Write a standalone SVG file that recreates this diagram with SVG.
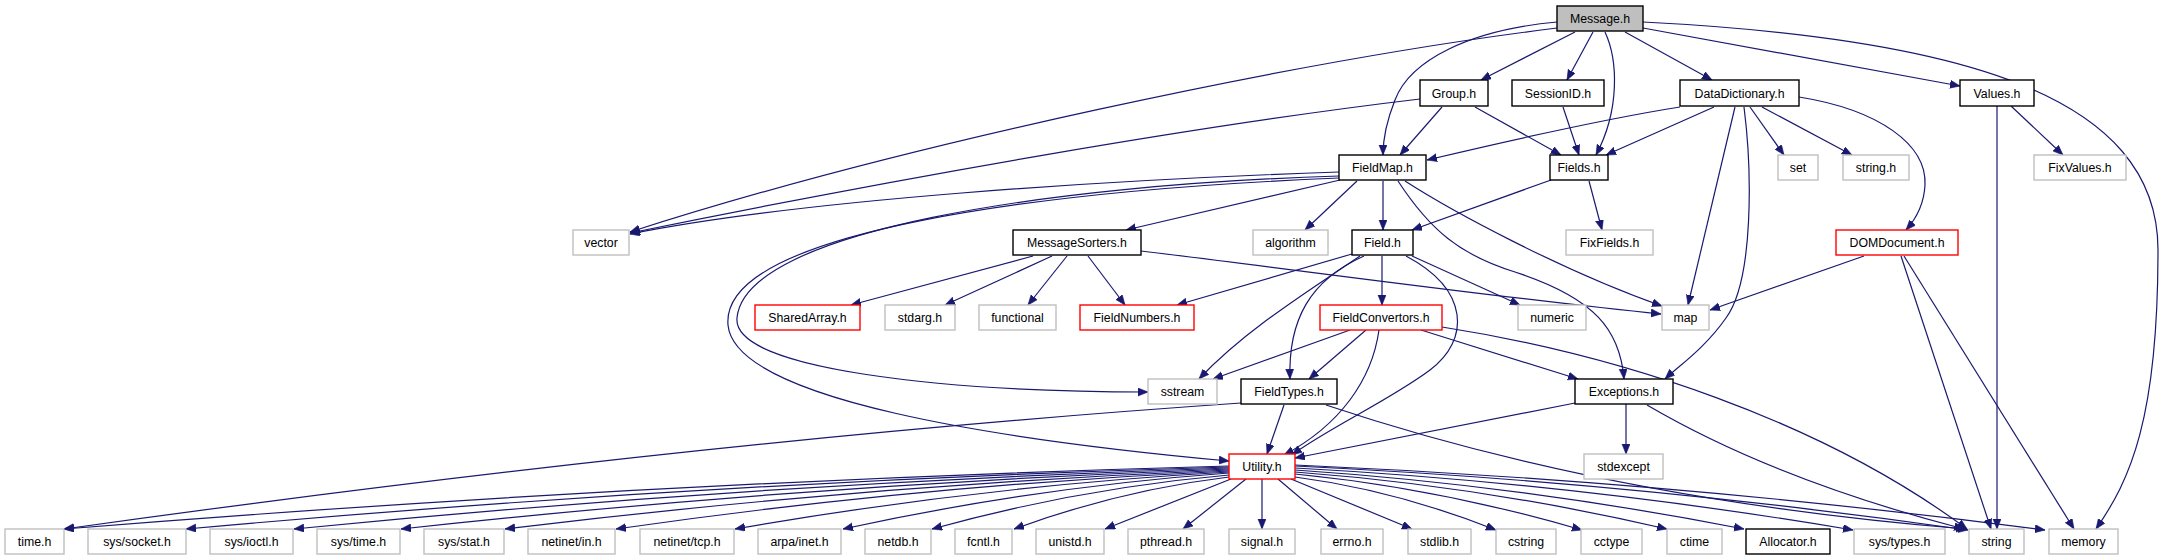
<svg xmlns="http://www.w3.org/2000/svg" width="2168" height="560" viewBox="0 0 2168 560">
<style>
rect{fill:#fff;stroke-width:1.4}
.doc rect{stroke:#000}
.ext rect{stroke:#bfbfbf}
.red rect{stroke:#ff0000}
.root rect{fill:#bfbfbf;stroke:#000}
text{font-family:"Liberation Sans",Arial,sans-serif;font-size:12.3px;text-anchor:middle;fill:#000}
#edges path{fill:none;stroke:#191970;stroke-width:1.2;marker-end:url(#a)}
</style>
<defs>
<marker id="a" markerUnits="userSpaceOnUse" markerWidth="11" markerHeight="9" refX="10" refY="4" orient="auto" viewBox="0 0 11 9"><path d="M0,0 L10,4 L0,8 z" fill="#191970" stroke="#191970" stroke-width="0.6"/></marker>
</defs>
<rect x="0" y="0" width="2168" height="560" style="fill:#fff;stroke:none"/>
<g id="edges">
<path d="M1557,28 C1300,60 900,145 630,232"/>
<path d="M1557,22 C1470,30 1410,60 1395,100 C1385,125 1383,140 1383,155"/>
<path d="M1575,32 L1481,80"/>
<path d="M1593,32 L1567,80"/>
<path d="M1605,32 C1618,60 1620,110 1596,155"/>
<path d="M1625,32 L1712,80"/>
<path d="M1643,28 L1960,86"/>
<path d="M1643,22 C1960,38 2158,95 2158,250 C2158,420 2130,480 2096,529"/>
<path d="M1420,99 C1200,125 900,178 630,233"/>
<path d="M1442,107 L1400,155"/>
<path d="M1475,107 L1561,155"/>
<path d="M1563,107 L1579,155"/>
<path d="M1680,107 C1610,118 1520,138 1427,160"/>
<path d="M1714,107 L1606,155"/>
<path d="M1735,107 L1688,305"/>
<path d="M1744,107 C1752,170 1754,280 1726,318 C1705,348 1680,365 1665,379"/>
<path d="M1750,107 L1784,155"/>
<path d="M1762,107 L1852,155"/>
<path d="M1799,97 C1880,110 1927,145 1925,185 C1924,205 1915,220 1906,230"/>
<path d="M1997,106 L1997,529"/>
<path d="M2011,106 L2063,155"/>
<path d="M1339,172 C1100,180 800,200 630,234"/>
<path d="M1339,176 C1050,185 745,230 737,318 C732,370 950,392 1148,392"/>
<path d="M1339,178 C1050,190 720,230 728,325 C735,400 1000,440 1229,461"/>
<path d="M1340,180 L1126,230"/>
<path d="M1357,181 L1305,230"/>
<path d="M1383,181 L1383,230"/>
<path d="M1405,181 C1450,210 1560,270 1662,306"/>
<path d="M1398,181 C1430,230 1460,255 1515,272 C1595,298 1620,330 1624,379"/>
<path d="M1551,180 L1412,230"/>
<path d="M1589,181 L1602,230"/>
<path d="M1033,256 L851,305"/>
<path d="M1052,256 L945,305"/>
<path d="M1067,256 L1028,305"/>
<path d="M1088,256 L1125,305"/>
<path d="M1141,251 C1300,270 1500,298 1661,314"/>
<path d="M1352,254 L1177,305"/>
<path d="M1360,256 C1310,290 1245,330 1199,379"/>
<path d="M1364,256 C1310,280 1288,320 1290,379"/>
<path d="M1382,256 L1382,305"/>
<path d="M1412,256 L1520,305"/>
<path d="M1406,256 C1470,290 1470,340 1430,370 C1390,400 1325,430 1292,455"/>
<path d="M1350,330 L1213,379"/>
<path d="M1366,330 L1309,379"/>
<path d="M1379,330 C1372,380 1340,425 1284,455"/>
<path d="M1421,330 L1578,379"/>
<path d="M1442,327 C1620,355 1820,420 1967,529"/>
<path d="M1575,403 L1295,458"/>
<path d="M1626,404 L1626,454"/>
<path d="M1647,405 Q1775,480 1964,529"/>
<path d="M1864,256 L1710,310"/>
<path d="M1901,256 L1991,529"/>
<path d="M1904,256 L2074,529"/>
<path d="M1241,403 Q700,440 64,529"/>
<path d="M1284,405 L1267,454"/>
<path d="M1326,405 Q1610,500 1966,529"/>
<path d="M1229,466 Q646,482 64,529"/>
<path d="M1229,467 Q707,482 186,529"/>
<path d="M1229,468 Q761,483 294,529"/>
<path d="M1229,469 Q815,484 401,529"/>
<path d="M1229,470 Q867,485 505,529"/>
<path d="M1229,471 Q922,485 616,529"/>
<path d="M1229,472 Q982,486 735,529"/>
<path d="M1229,473 Q1036,487 843,529"/>
<path d="M1229,475 Q1080,488 932,529"/>
<path d="M1229,477 Q1121,490 1014,529"/>
<path d="M1231,479 L1105,529"/>
<path d="M1246,479 L1183,529"/>
<path d="M1262,479 L1262,529"/>
<path d="M1278,479 L1337,529"/>
<path d="M1291,479 L1412,529"/>
<path d="M1295,477 Q1395,490 1496,530"/>
<path d="M1295,474 Q1438,488 1582,530"/>
<path d="M1295,472 Q1481,486 1667,529"/>
<path d="M1295,470 Q1519,485 1744,529"/>
<path d="M1295,468 Q1574,483 1853,530"/>
<path d="M1295,466 Q1631,482 1968,530"/>
<path d="M1295,465 Q1670,481 2045,530"/>
</g>
<g id="n_Message_h" class="root"><rect x="1557" y="6" width="86" height="25"/><text x="1600" y="23">Message.h</text></g>
<g id="n_Group_h" class="doc"><rect x="1420" y="80" width="68" height="26"/><text x="1454" y="97.5">Group.h</text></g>
<g id="n_SessionID_h" class="doc"><rect x="1512" y="80" width="92" height="26"/><text x="1558" y="97.5">SessionID.h</text></g>
<g id="n_DataDictionary_h" class="doc"><rect x="1680" y="80" width="119" height="26"/><text x="1739.5" y="97.5">DataDictionary.h</text></g>
<g id="n_Values_h" class="doc"><rect x="1960" y="80" width="74" height="26"/><text x="1997" y="97.5">Values.h</text></g>
<g id="n_FieldMap_h" class="doc"><rect x="1339" y="155" width="87" height="25"/><text x="1382.5" y="172">FieldMap.h</text></g>
<g id="n_Fields_h" class="doc"><rect x="1550" y="155" width="58" height="25"/><text x="1579" y="172">Fields.h</text></g>
<g id="n_set" class="ext"><rect x="1778" y="155" width="40" height="25"/><text x="1798" y="172">set</text></g>
<g id="n_string_h" class="ext"><rect x="1843" y="155" width="66" height="25"/><text x="1876" y="172">string.h</text></g>
<g id="n_FixValues_h" class="ext"><rect x="2034" y="155" width="92" height="25"/><text x="2080" y="172">FixValues.h</text></g>
<g id="n_vector" class="ext"><rect x="573" y="230" width="56" height="25"/><text x="601" y="247">vector</text></g>
<g id="n_MessageSorters_h" class="doc"><rect x="1013" y="230" width="128" height="25"/><text x="1077" y="247">MessageSorters.h</text></g>
<g id="n_algorithm" class="ext"><rect x="1253" y="230" width="75" height="25"/><text x="1290.5" y="247">algorithm</text></g>
<g id="n_Field_h" class="doc"><rect x="1352" y="230" width="61" height="25"/><text x="1382.5" y="247">Field.h</text></g>
<g id="n_FixFields_h" class="ext"><rect x="1566" y="230" width="87" height="25"/><text x="1609.5" y="247">FixFields.h</text></g>
<g id="n_DOMDocument_h" class="red"><rect x="1836" y="230" width="122" height="25"/><text x="1897" y="247">DOMDocument.h</text></g>
<g id="n_SharedArray_h" class="red"><rect x="755" y="305" width="105" height="25"/><text x="807.5" y="322">SharedArray.h</text></g>
<g id="n_stdarg_h" class="ext"><rect x="885" y="305" width="70" height="25"/><text x="920" y="322">stdarg.h</text></g>
<g id="n_functional" class="ext"><rect x="979" y="305" width="77" height="25"/><text x="1017.5" y="322">functional</text></g>
<g id="n_FieldNumbers_h" class="red"><rect x="1080" y="305" width="114" height="25"/><text x="1137" y="322">FieldNumbers.h</text></g>
<g id="n_FieldConvertors_h" class="red"><rect x="1320" y="305" width="122" height="25"/><text x="1381" y="322">FieldConvertors.h</text></g>
<g id="n_numeric" class="ext"><rect x="1518" y="305" width="68" height="25"/><text x="1552" y="322">numeric</text></g>
<g id="n_map" class="ext"><rect x="1662" y="305" width="47" height="25"/><text x="1685.5" y="322">map</text></g>
<g id="n_sstream" class="ext"><rect x="1148" y="379" width="69" height="25"/><text x="1182.5" y="396">sstream</text></g>
<g id="n_FieldTypes_h" class="doc"><rect x="1241" y="379" width="96" height="25"/><text x="1289" y="396">FieldTypes.h</text></g>
<g id="n_Exceptions_h" class="doc"><rect x="1575" y="379" width="98" height="25"/><text x="1624" y="396">Exceptions.h</text></g>
<g id="n_Utility_h" class="red"><rect x="1229" y="454" width="66" height="25"/><text x="1262" y="471">Utility.h</text></g>
<g id="n_stdexcept" class="ext"><rect x="1584" y="454" width="79" height="25"/><text x="1623.5" y="471">stdexcept</text></g>
<g id="n_time_h" class="ext"><rect x="5" y="529" width="59" height="25"/><text x="34.5" y="546">time.h</text></g>
<g id="n_sys_socket_h" class="ext"><rect x="88" y="529" width="98" height="25"/><text x="137" y="546">sys/socket.h</text></g>
<g id="n_sys_ioctl_h" class="ext"><rect x="210" y="529" width="83" height="25"/><text x="251.5" y="546">sys/ioctl.h</text></g>
<g id="n_sys_time_h" class="ext"><rect x="317" y="529" width="83" height="25"/><text x="358.5" y="546">sys/time.h</text></g>
<g id="n_sys_stat_h" class="ext"><rect x="424" y="529" width="80" height="25"/><text x="464" y="546">sys/stat.h</text></g>
<g id="n_netinet_in_h" class="ext"><rect x="528" y="529" width="87" height="25"/><text x="571.5" y="546">netinet/in.h</text></g>
<g id="n_netinet_tcp_h" class="ext"><rect x="640" y="529" width="94" height="25"/><text x="687" y="546">netinet/tcp.h</text></g>
<g id="n_arpa_inet_h" class="ext"><rect x="758" y="529" width="83" height="25"/><text x="799.5" y="546">arpa/inet.h</text></g>
<g id="n_netdb_h" class="ext"><rect x="865" y="529" width="66" height="25"/><text x="898" y="546">netdb.h</text></g>
<g id="n_fcntl_h" class="ext"><rect x="955" y="529" width="57" height="25"/><text x="983.5" y="546">fcntl.h</text></g>
<g id="n_unistd_h" class="ext"><rect x="1036" y="529" width="68" height="25"/><text x="1070" y="546">unistd.h</text></g>
<g id="n_pthread_h" class="ext"><rect x="1128" y="529" width="76" height="25"/><text x="1166" y="546">pthread.h</text></g>
<g id="n_signal_h" class="ext"><rect x="1229" y="529" width="66" height="25"/><text x="1262" y="546">signal.h</text></g>
<g id="n_errno_h" class="ext"><rect x="1321" y="529" width="62" height="25"/><text x="1352" y="546">errno.h</text></g>
<g id="n_stdlib_h" class="ext"><rect x="1408" y="529" width="63" height="25"/><text x="1439.5" y="546">stdlib.h</text></g>
<g id="n_cstring" class="ext"><rect x="1496" y="529" width="60" height="25"/><text x="1526" y="546">cstring</text></g>
<g id="n_cctype" class="ext"><rect x="1581" y="529" width="61" height="25"/><text x="1611.5" y="546">cctype</text></g>
<g id="n_ctime" class="ext"><rect x="1667" y="529" width="55" height="25"/><text x="1694.5" y="546">ctime</text></g>
<g id="n_Allocator_h" class="doc"><rect x="1746" y="529" width="84" height="25"/><text x="1788" y="546">Allocator.h</text></g>
<g id="n_sys_types_h" class="ext"><rect x="1854" y="529" width="91" height="25"/><text x="1899.5" y="546">sys/types.h</text></g>
<g id="n_string" class="ext"><rect x="1969" y="529" width="55" height="25"/><text x="1996.5" y="546">string</text></g>
<g id="n_memory" class="ext"><rect x="2049" y="529" width="69" height="25"/><text x="2083.5" y="546">memory</text></g>
</svg>
